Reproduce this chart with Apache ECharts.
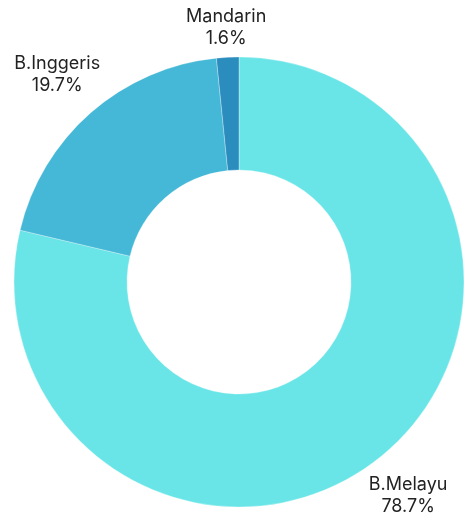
<!DOCTYPE html>
<html>
<head>
<meta charset="utf-8">
<script src="https://cdn.jsdelivr.net/npm/echarts@6/dist/echarts.min.js"></script>
<style>
  html, body { margin: 0; padding: 0; background: #fff; }
  #main { width: 464px; height: 520px; }
</style>
</head>
<body>
<div id="main"></div>
<script>
const languages = ['B.Melayu', 'B.Inggeris', 'Mandarin'];
const shares = [78.7, 19.7, 1.6];
const sliceColors = ['#69E5E8', '#44B8D6', '#2B8CBE'];

const CX = 239, CY = 282, R_IN = 112, R_OUT = 225;
const LABEL_GAP = 6;

// mid angle of each slice (clockwise from 12 o'clock)
const total = shares.reduce((a, b) => a + b, 0);
const midAngles = [];
let acc = 0;
shares.forEach((v) => {
    midAngles.push((acc + v / 2) / total * Math.PI * 2);
    acc += v;
});

const chart = echarts.init(document.getElementById('main'));

const option = {
    backgroundColor: '#fff',
    animation: false,
    textStyle: { fontFamily: 'Inter' },
    series: [
        {
            type: 'pie',
            center: [CX, CY],
            radius: [R_IN, R_OUT],
            startAngle: 90,
            clockwise: true,
            data: languages.map((name, i) => ({
                name: name,
                value: shares[i],
                itemStyle: { color: sliceColors[i] }
            })),
            itemStyle: {
                borderColor: 'rgba(255,255,255,0.6)',
                borderWidth: 0.5
            },
            label: {
                show: true,
                position: 'outside',
                formatter: (p) => p.name + '\n' + p.value.toFixed(1) + '%',
                color: '#222',
                fontSize: 18,
                lineHeight: 22,
                align: 'center',
                overflow: 'none'
            },
            labelLine: { show: false, length: 10, length2: 0 },
            // push each label out along its slice's middle so the box sits just off the ring
            labelLayout: (params) => {
                const a = midAngles[params.dataIndex];
                const ux = Math.sin(a), uy = -Math.cos(a);
                const w = params.labelRect.width, h = params.labelRect.height;
                const d = R_OUT + LABEL_GAP + Math.abs(ux) * w / 2 + Math.abs(uy) * h / 2;
                return {
                    x: CX + ux * d,
                    y: CY + uy * d,
                    align: 'center',
                    verticalAlign: 'middle'
                };
            },
            emphasis: { disabled: true }
        }
    ]
};

chart.setOption(option);
</script>
</body>
</html>
